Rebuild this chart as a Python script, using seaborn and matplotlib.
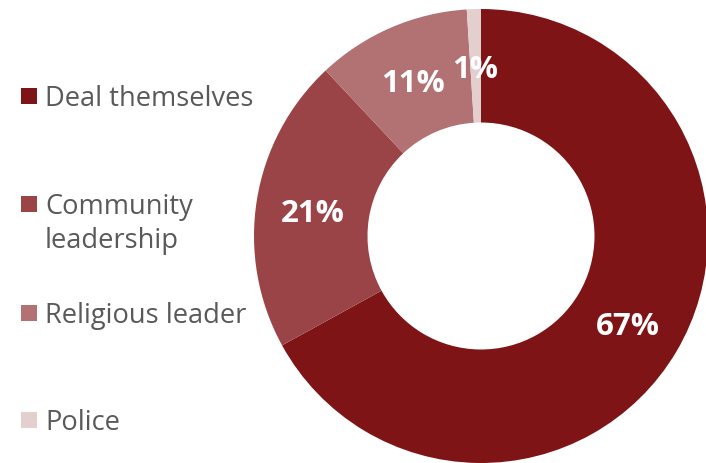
import matplotlib
matplotlib.use("Agg")
import matplotlib.pyplot as plt
from matplotlib.patches import Rectangle
import seaborn as sns

# Who people turn to
categories = ["Deal themselves", "Community\nleadership", "Religious leader", "Police"]
shares = [67, 21, 11, 1]
colors = ["#7F1416", "#9B4447", "#B27172", "#E4CFCF"]

sns.set_theme(style="white")
plt.rcParams["font.family"] = ["Open Sans", "DejaVu Sans"]

fig = plt.figure(figsize=(7.06, 4.64), dpi=100)
W, H = 706, 464

# Donut axes: square region holding the ring
cx, cy, r = 481, 237, 227
ax = fig.add_axes([(cx - r) / W, 1 - (cy + r) / H, 2 * r / W, 2 * r / H])
wedges, _, autotexts = ax.pie(
    shares,
    colors=colors,
    startangle=90,
    counterclock=False,
    radius=1.0,
    wedgeprops=dict(width=0.5, linewidth=0),
    autopct=lambda p: f"{p:.0f}%",
    pctdistance=0.75,
    textprops=dict(color="white", fontsize=22.5, fontweight="bold"),
)
for t in autotexts:
    x, y = t.get_position()
    t.set_position((x, y - 0.015))
ax.set_xlim(-1, 1)
ax.set_ylim(-1, 1)
ax.set_aspect("equal")
ax.axis("off")

# Legend on the left: colour square + label, square aligned with the first line
rows_y = [97, 205, 314, 421]
for color, label, y in zip(colors, categories, rows_y):
    sq = 16
    fig.patches.append(
        Rectangle((21 / W, 1 - (y + sq / 2) / H), sq / W, sq / H,
                  transform=fig.transFigure, facecolor=color, edgecolor="none")
    )
    fig.text(45 / W, 1 - (y - 12) / H, label, color="#595959", fontsize=19.6,
             ha="left", va="top", linespacing=1.3)

fig.savefig("out.png", dpi=100)
